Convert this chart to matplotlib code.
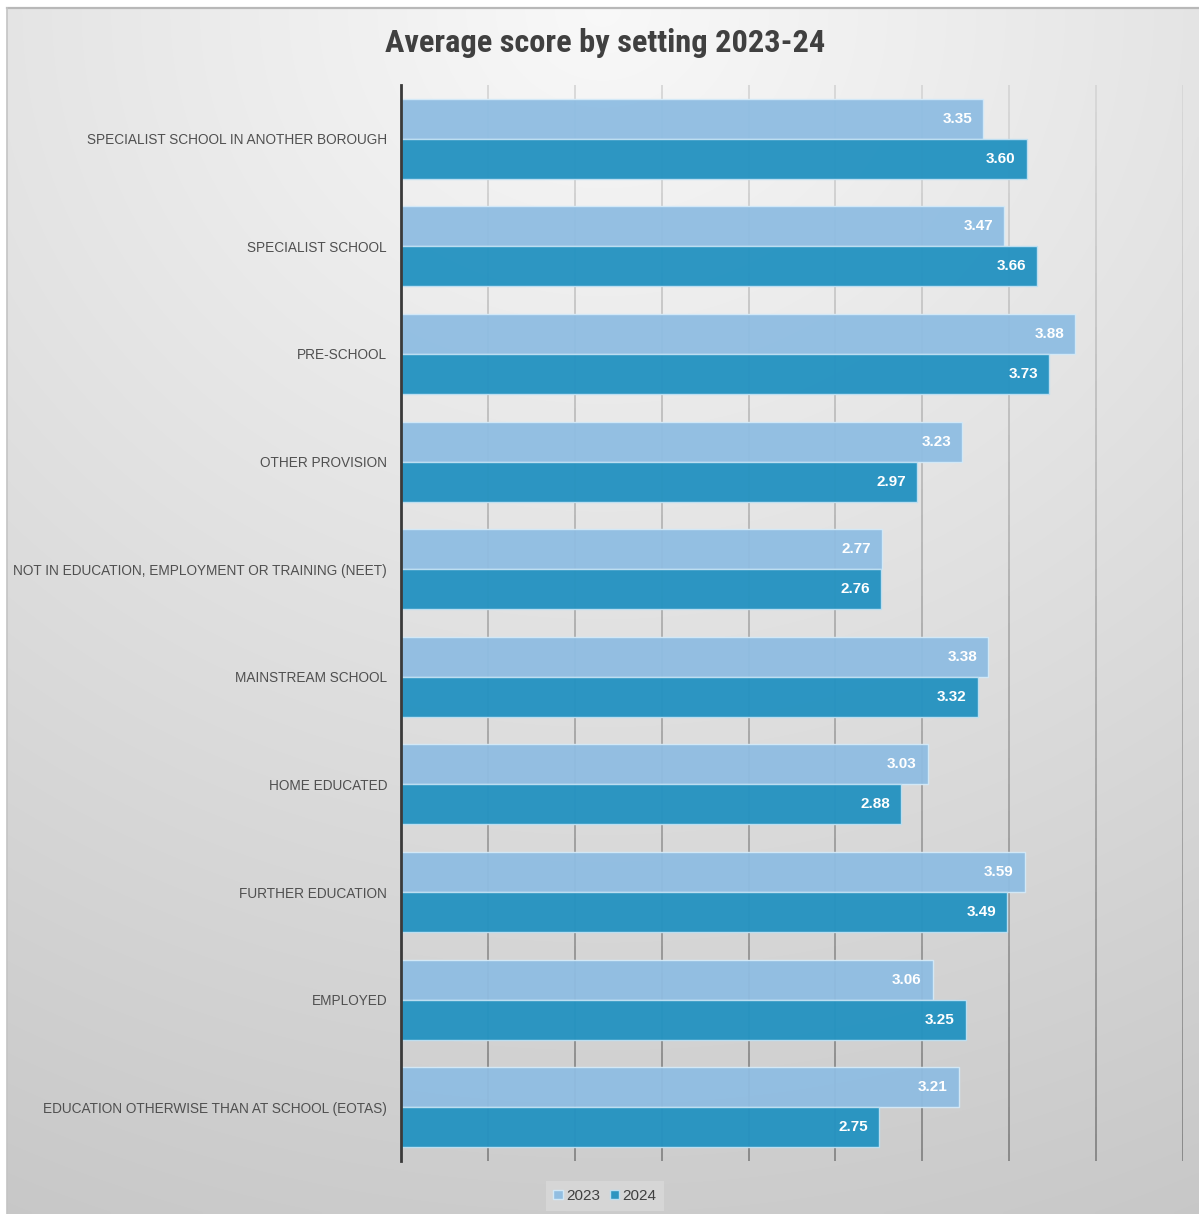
import numpy as np
import matplotlib
matplotlib.use("Agg")
import matplotlib.pyplot as plt
from matplotlib import font_manager
from matplotlib.collections import LineCollection

# Settings, listed top to bottom as they appear on the chart
categories = [
    "SPECIALIST SCHOOL IN ANOTHER BOROUGH",
    "SPECIALIST SCHOOL",
    "PRE-SCHOOL",
    "OTHER PROVISION",
    "NOT IN EDUCATION, EMPLOYMENT OR TRAINING (NEET)",
    "MAINSTREAM SCHOOL",
    "HOME EDUCATED",
    "FURTHER EDUCATION",
    "EMPLOYED",
    "EDUCATION OTHERWISE THAN AT SCHOOL (EOTAS)",
]
scores_2023 = [3.35, 3.47, 3.88, 3.23, 2.77, 3.38, 3.03, 3.59, 3.06, 3.21]
scores_2024 = [3.60, 3.66, 3.73, 2.97, 2.76, 3.32, 2.88, 3.49, 3.25, 2.75]
series_labels = ["2023", "2024"]
x_ticks = [0, 0.5, 1.0, 1.5, 2.0, 2.5, 3.0, 3.5, 4.0, 4.5]
title = "Average score by setting 2023-24"

W, H = 1199, 1214
fig = plt.figure(figsize=(W / 100, H / 100), dpi=100, facecolor="white")

# Soft grey gradient backdrop behind the whole chart
bg = fig.add_axes([7 / W, 0, 1 - 7 / W, 1 - 8 / H], zorder=-10)
ny, nx = 300, 300
yy, xx = np.mgrid[0:1:ny * 1j, 0:1:nx * 1j]
d = np.sqrt(((xx - 0.5) * 0.9) ** 2 + yy ** 2)
shade = np.clip(0.975 - 0.175 * d, 0, 1)
bg.imshow(np.dstack([shade] * 3), aspect="auto", extent=[0, 1, 1, 0],
          interpolation="bilinear")
bg.set_xlim(0, 1)
bg.set_ylim(1, 0)
bg.axis("off")
fig.add_artist(plt.Line2D([7 / W, 1], [1 - 8 / H, 1 - 8 / H], color="#b8b8b8",
                          lw=1.6, transform=fig.transFigure))
fig.add_artist(plt.Line2D([7 / W, 7 / W], [0, 1 - 8 / H], color="#c4c4c4",
                          lw=1.2, transform=fig.transFigure))

left, right = 401 / W, 1183 / W
top, bottom = 1 - 85 / H, 1 - 1161 / H
ax = fig.add_axes([left, bottom, right - left, top - bottom])
ax.patch.set_alpha(0)

n = len(categories)
ypos = np.arange(n)[::-1].astype(float)
bh = 0.372
c23 = "#8fbde2"
c24 = "#2693c1"

ax.set_xlim(0, 4.5)
ax.set_ylim(-0.5, n - 0.5)

# Vertical gridlines fading from light grey at the top to darker grey at the bottom
nseg = 40
for xv in x_ticks[1:]:
    ys = np.linspace(n - 0.5, -0.5, nseg + 1)
    segs = [[(xv, ys[i]), (xv, ys[i + 1])] for i in range(nseg)]
    t = np.linspace(0, 1, nseg)
    g = 0.84 - 0.32 * t
    cols = [(v, v, v, 1) for v in g]
    ax.add_collection(LineCollection(segs, colors=cols, linewidths=1.3, zorder=1))

b1 = ax.barh(ypos + bh / 2, scores_2023, height=bh, color=c23, alpha=0.95,
             edgecolor="#d4eaf8", linewidth=1.0, zorder=2, label=series_labels[0])
b2 = ax.barh(ypos - bh / 2, scores_2024, height=bh, color=c24, alpha=0.97,
             edgecolor="#bfe0f2", linewidth=1.0, zorder=2, label=series_labels[1])

for bars, vals in ((b1, scores_2023), (b2, scores_2024)):
    for rect, v in zip(bars, vals):
        ax.annotate(f"{v:.2f}", xy=(v, rect.get_y() + rect.get_height() / 2),
                    xytext=(-8, 0), textcoords="offset points",
                    ha="right", va="center", color="white", fontsize=11,
                    fontweight="bold", family="Liberation Sans", zorder=3)

ax.set_yticks(ypos)
ax.set_yticklabels(categories, family="Liberation Sans", fontsize=9.8,
                   color="#505050")
ax.tick_params(axis="y", length=0, pad=10)
ax.set_xticks(x_ticks)
ax.tick_params(axis="x", length=0, labelbottom=False)
for s in ("top", "right", "bottom"):
    ax.spines[s].set_visible(False)
ax.spines["left"].set_color("#3a3a3a")
ax.spines["left"].set_linewidth(2)
ax.spines["left"].set_zorder(4)

# Title: prefer a narrow bold face when one is installed
installed = {f.name for f in font_manager.fontManager.ttflist}
title_family = "Liberation Sans"
for cand in ("Roboto Condensed", "Liberation Sans Narrow", "Open Sans Condensed",
             "DejaVu Sans Condensed", "Noto Sans Condensed"):
    if cand in installed:
        title_family = cand
        break
title_txt = fig.text(605 / W, 1 - 43 / H, title, ha="center", va="center",
                     fontsize=22, fontweight="bold", family=title_family,
                     color="#404040")
renderer = fig.canvas.get_renderer()
tw = title_txt.get_window_extent(renderer).width
title_txt.set_fontsize(22 * 439.0 / tw)

leg = fig.legend(handles=[b1, b2], labels=series_labels, loc="center",
                 bbox_to_anchor=(605 / W, 1 - 1196 / H), ncol=2,
                 frameon=True, fancybox=False, handlelength=0.6,
                 handleheight=0.6, handletextpad=0.25, columnspacing=0.6,
                 borderpad=0.5, prop={"family": "Liberation Sans", "size": 11})
leg.get_frame().set_facecolor("#d9d9d9")
leg.get_frame().set_edgecolor("none")
leg.get_frame().set_alpha(0.8)
for t in leg.get_texts():
    t.set_color("#404040")

fig.savefig("out.png", dpi=100, facecolor="white")
